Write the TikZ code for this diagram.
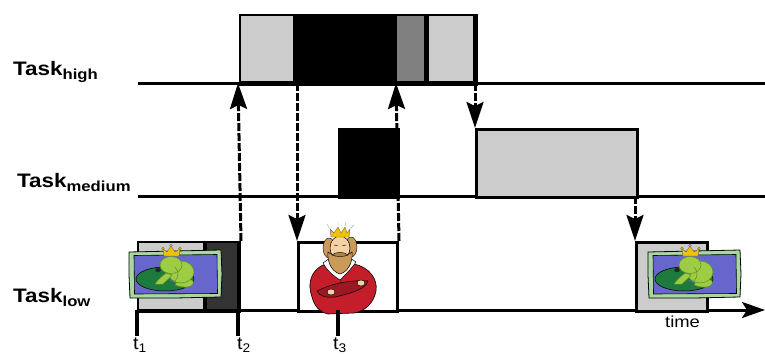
\documentclass[tikz,border=0pt]{standalone}
\usepackage{fontspec}
\usepackage{graphicx}
\setmainfont{Liberation Sans}
\usetikzlibrary{arrows.meta}

\definecolor{cellgray}{HTML}{CCCCCC}
\definecolor{midgray}{HTML}{808080}
\definecolor{darkcell}{HTML}{333333}
\definecolor{pondblue}{HTML}{6666CC}
\definecolor{framegreen}{HTML}{A8D8A0}
\definecolor{padgreen}{HTML}{1B7A3C}
\definecolor{frogskin}{HTML}{9ECC45}
\definecolor{frogshade}{HTML}{5E8F22}
\definecolor{crowngold}{HTML}{F2C200}
\definecolor{robered}{HTML}{C41E2A}
\definecolor{skin}{HTML}{F4D2A6}
\definecolor{beard}{HTML}{C99A58}

% label helpers
\newcommand{\tasklabel}[2]{\scalebox{1.15}[1]{\bfseries\fontsize{19.5}{20}\selectfont #1\raisebox{-4.5pt}{\fontsize{14.5}{14}\selectfont #2}}}
\newcommand{\ticklabel}[1]{\scalebox{1.1}[1]{\fontsize{18}{18}\selectfont t\raisebox{-3.5pt}{\fontsize{12.5}{12}\selectfont #1}}}

\tikzset{
  frogpic/.pic={
    % wavy picture frame
    \filldraw[fill=framegreen,draw=black,line width=0.8pt]
      (0,1) -- (46,0) -- (92,-1) -- (93,23) -- (92,46) -- (46,47) -- (1,47) -- (0,24) -- cycle;
    \filldraw[fill=pondblue,draw=black,line width=0.6pt]
      (5,4.5) -- (88,3.5) -- (88.5,42.5) -- (5.5,43) -- cycle;
    % lily pad with its slit
    \filldraw[fill=padgreen,draw=black,line width=0.5pt] (36,28) ellipse (29 and 12);
    \fill[pondblue] (40,29) -- (66,33) -- (62,39) -- cycle;
    % frog
    \filldraw[fill=frogskin,draw=frogshade,line width=0.5pt]
      (46,34) .. controls (56,38) and (66,36) .. (64,30)
      .. controls (60,26) and (52,28) .. (48,31) -- cycle;
    \filldraw[fill=frogskin,draw=frogshade,line width=0.5pt] (52,21) ellipse (13 and 11);
    \filldraw[fill=frogskin,draw=frogshade,line width=0.5pt] (42,14) ellipse (11 and 8.5);
    \filldraw[fill=frogskin,draw=frogshade,line width=0.5pt]
      (37,22) .. controls (32,26) and (28,30) .. (26,33)
      -- (34,33) .. controls (37,30) and (41,27) .. (43,24) -- cycle;
    \draw[frogshade,line width=0.5pt] (46,16) .. controls (50,20) and (50,26) .. (46,30);
    \fill[black!85] (29,19) ellipse (2.8 and 2.2);
    % crown
    \filldraw[fill=crowngold,draw=black!60,line width=0.4pt]
      (35,5) -- (34,-2) -- (38,1) -- (42,-5) -- (46,1) -- (51,-2) -- (50,5) -- cycle;
    \foreach \cx/\cy in {34/-2.5, 42/-5.5, 51/-2.5}
      \filldraw[fill=crowngold,draw=black!60,line width=0.3pt] (\cx,\cy) circle (1.4);
  },
  kingpic/.pic={
    % robe
    \filldraw[fill=robered,draw=black,line width=0.6pt]
      (14,58) .. controls (9,44) and (13,32) .. (25,26)
      -- (56,25) .. controls (71,28) and (80,40) .. (78,52)
      .. controls (76,63) and (68,72) .. (56,74)
      -- (30,75) .. controls (21,73) and (16,66) .. (14,58) -- cycle;
    % ermine collar
    \filldraw[fill=white,draw=black,line width=0.5pt]
      (25,24) .. controls (30,33) and (36,37) .. (42,41)
      .. controls (48,35) and (54,29) .. (58,23) -- (52,19) -- (32,19) -- cycle;
    \draw[robered!70!black,line width=0.5pt] (42,41) -- (42,58);
    % crossed arms
    \filldraw[fill=robered!80!black,draw=black,line width=0.5pt]
      (19,52) .. controls (35,44) and (52,41) .. (70,42)
      .. controls (68,50) and (54,54) .. (37,58)
      .. controls (28,59) and (21,57) .. (19,52) -- cycle;
    \filldraw[fill=skin,draw=black,line width=0.4pt] (33,53) ellipse (4 and 3);
    \filldraw[fill=skin,draw=black,line width=0.4pt] (63,44) ellipse (4 and 3);
    % hair
    \filldraw[fill=beard,draw=black,line width=0.4pt] (31,9) ellipse (6 and 10);
    \filldraw[fill=beard,draw=black,line width=0.4pt] (53,8) ellipse (6 and 10);
    % face
    \filldraw[fill=skin,draw=black,line width=0.5pt] (42,9) ellipse (10 and 12);
    % beard
    \filldraw[fill=beard,draw=black,line width=0.5pt]
      (30,13) .. controls (29,25) and (35,33) .. (42,35)
      .. controls (49,33) and (55,25) .. (54,13)
      .. controls (49,18) and (35,18) .. (30,13) -- cycle;
    % moustache and closed eyes
    \filldraw[fill=beard!85!black,draw=black,line width=0.4pt]
      (34,16) .. controls (37,12.5) and (47,12.5) .. (50,16)
      .. controls (46,18) and (38,18) .. (34,16) -- cycle;
    \draw[line width=0.5pt] (36,6) -- (39.5,6.5) (44.5,6.5) -- (48,6);
    % crown
    \filldraw[fill=crowngold,draw=black!60,line width=0.4pt]
      (33,-2) -- (32,-10) -- (36,-6) -- (40,-12) -- (43,-6) -- (47,-12) -- (49,-6) -- (52,-10) -- (51,-2) -- cycle;
    \draw[black!35,line width=0.4pt] (31,-11) -- (29,-15) (40,-13) -- (40,-17) (47,-13) -- (48,-17) (53,-11) -- (56,-14);
  }
}

\begin{document}
\begin{tikzpicture}[x=1pt,y=-1pt,
  axis/.style={line width=3pt},
  taskbox/.style={draw=black,line width=3pt,inner sep=0pt,anchor=north west},
  wake/.style={line width=3pt,dash pattern=on 8pt off 2pt,
    -{Stealth[length=26pt,width=17pt,inset=4pt]}},
  tick/.style={line width=3.5pt},
  lbl/.style={inner sep=0pt,anchor=base west}
]
\useasboundingbox (0,0) rectangle (765,356);

% time lines of the three tasks
\coordinate (hiS) at (138,83);  \coordinate (hiE) at (765,83);
\coordinate (mdS) at (138,196); \coordinate (mdE) at (765,196);
\coordinate (loS) at (136.5,310); \coordinate (loE) at (765,310);
\draw[axis] (hiS) -- (hiE);
\draw[axis] (mdS) -- (mdE);
\draw[axis,-{Stealth[length=23pt,width=16pt,inset=5pt]}] (loS) -- (loE);

% high priority task
\node[taskbox,fill=black,minimum width=236.5pt,minimum height=69.5pt] (hb) at (238.5,13.5) {};
\fill[cellgray] (241,15.5) rectangle (293,81);
\fill[midgray] (397,15.5) rectangle (424,81);
\fill[cellgray] (429,15.5) rectangle (473,81);

% medium priority task
\node[taskbox,fill=black,minimum width=59pt,minimum height=68pt] (mb) at (338,128) {};
\node[taskbox,fill=cellgray,minimum width=161pt,minimum height=68pt] (mg) at (475,128) {};

% low priority task
\node[taskbox,fill=black,minimum width=101.5pt,minimum height=69pt] (l1) at (136.5,241) {};
\fill[cellgray] (139,243) rectangle (203,308.5);
\fill[darkcell] (207,243) rectangle (236.5,308.5);
\node[taskbox,fill=white,minimum width=99pt,minimum height=69pt] (l2) at (297,241) {};
\node[taskbox,fill=cellgray,minimum width=71pt,minimum height=69pt] (l3) at (635,241) {};

% pictures
\pic at (129,251) {frogpic};
\pic at (648,251) {frogpic};
\pic at (298,239) {kingpic};

% hand-overs between the tasks
\coordinate (hA) at (238,83);
\coordinate (hB) at (297,83);
\coordinate (hC) at (396,83);
\coordinate (hD) at (475,83);
\coordinate (mE) at (635,196);
\draw[wake] (l1.north east) -- (hA);
\draw[wake] (hB) -- (l2.north west);
\draw[wake] (l2.north east) -- (hC);
\draw[wake] (hD) -- (mg.north west);
\draw[wake] (mE) -- (l3.north west);

% time marks
\coordinate (t1) at (137,310); \coordinate (t1e) at (137,336);
\coordinate (t2) at (238,310); \coordinate (t2e) at (238,336);
\coordinate (t3) at (338,310); \coordinate (t3e) at (338,336);
\draw[tick] (t1) -- (t1e);
\draw[tick] (t2) -- (t2e);
\draw[tick] (t3) -- (t3e);
\node[lbl] (n1) at (133,349) {\ticklabel{1}};
\node[lbl] (n2) at (237,349) {\ticklabel{2}};
\node[lbl] (n3) at (333,349) {\ticklabel{3}};
\node[lbl] (tm) at (665,327) {\scalebox{1.15}[1]{\fontsize{16}{16}\selectfont time}};

% task names
\node[lbl] (th) at (13,75) {\tasklabel{Task}{high}};
\node[lbl] (tmd) at (17,187) {\tasklabel{Task}{medium}};
\node[lbl] (tl) at (13,302) {\tasklabel{Task}{low}};
\end{tikzpicture}
\end{document}
